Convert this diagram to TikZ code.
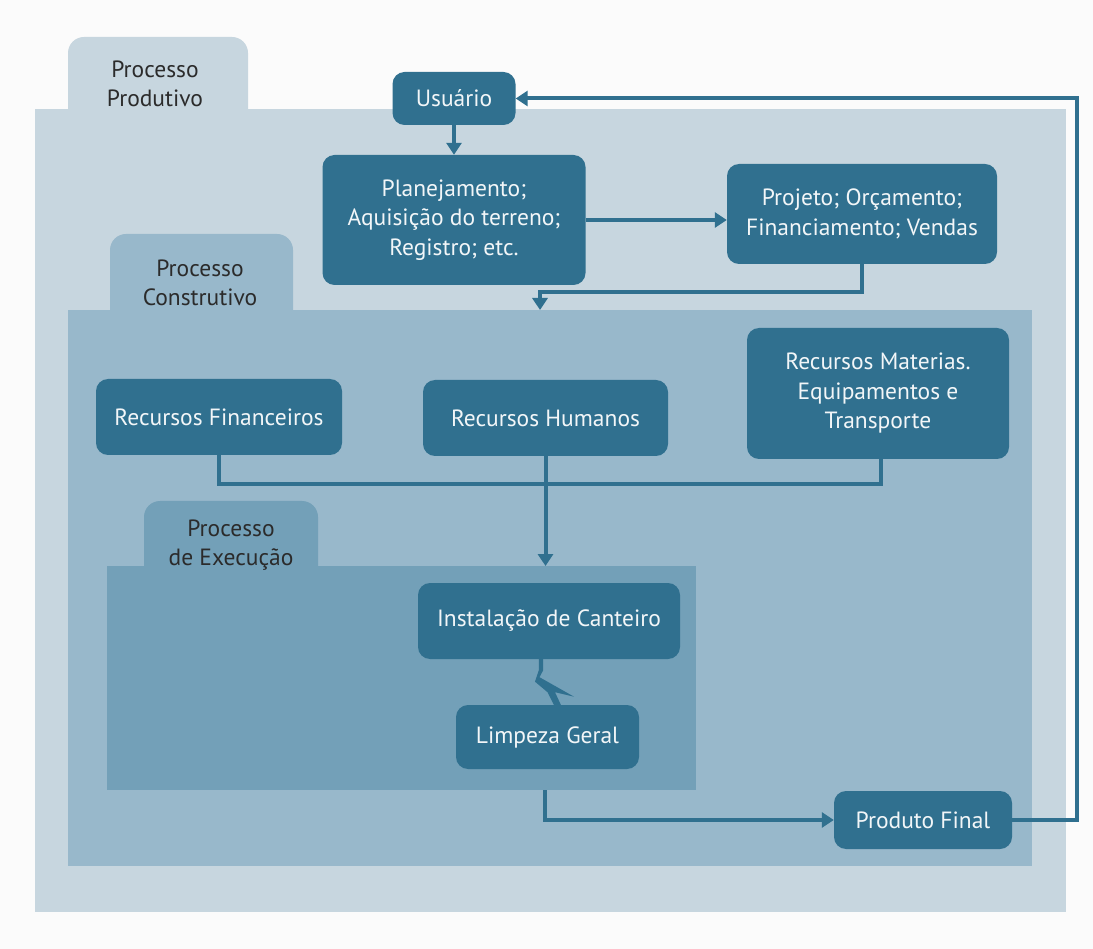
\documentclass[tikz,border=0pt]{standalone}
\usepackage{fontspec}
\setmainfont{PT Sans}
\usetikzlibrary{arrows.meta,calc}

\definecolor{pagebg}{HTML}{FBFBFB}
\definecolor{prodc}{HTML}{C7D6DF}
\definecolor{consc}{HTML}{98B8CB}
\definecolor{execc}{HTML}{73A0B8}
\definecolor{boxc}{HTML}{30708F}
\definecolor{tabtext}{HTML}{2B2B2B}
\definecolor{boxtext}{HTML}{F2F6F8}

\tikzset{
  box/.style={fill=boxc, rounded corners=12pt, text=boxtext, align=center,
    inner sep=0pt, font=\fontsize{23.5}{29.5}\selectfont},
  tablabel/.style={text=tabtext, align=center, inner sep=0pt,
    font=\fontsize{23.5}{29}\selectfont},
  link/.style={draw=boxc, line width=4pt},
  flow/.style={link, -{Triangle[width=15pt,length=12pt]}},
}

\begin{document}
\begin{tikzpicture}[x=1pt,y=-1pt]
  \fill[pagebg] (0,0) rectangle (1093,949);
  \useasboundingbox (0,0) rectangle (1093,949);

  % Processo Produtivo
  \fill[prodc, rounded corners=16pt] (68,140) -- (68,37) -- (248,37) -- (248,140) -- cycle;
  \fill[prodc] (35,109) rectangle (1066,912);
  \node[tablabel] (tabprod) at (155,84) {Processo\\Produtivo};

  % Processo Construtivo
  \fill[consc, rounded corners=16pt] (110,340) -- (110,234) -- (293,234) -- (293,340) -- cycle;
  \fill[consc] (68,310) rectangle (1032,866);
  \node[tablabel] (tabcons) at (200,283) {Processo\\Construtivo};
  \coordinate (consTop) at (540,310);

  % Processo de Execucao
  \fill[execc, rounded corners=16pt] (144,600) -- (144,501) -- (318,501) -- (318,600) -- cycle;
  \fill[execc] (107,566) rectangle (696,790);
  \node[tablabel] (tabexec) at (231,545) {Processo\\de Execução};
  \coordinate (execTop) at (545.5,566);
  \coordinate (execBot) at (545,790);

  % Steps
  \node[box, minimum width=123pt, minimum height=53pt] (usr) at (454,98.5) {Usuário};
  \node[box, minimum width=263pt, minimum height=130pt] (plan) at (454,220)
    {Planejamento;\\Aquisição do terreno;\\Registro; etc.};
  \node[box, minimum width=270pt, minimum height=100pt] (proj) at (862,214)
    {Projeto; Orçamento;\\Financiamento; Vendas};
  \node[box, minimum width=246pt, minimum height=76pt] (rfin) at (219,417) {Recursos Financeiros};
  \node[box, minimum width=245pt, minimum height=76pt] (rhum) at (545.5,418) {Recursos Humanos};
  \node[box, minimum width=262pt, minimum height=131pt] (rmat) at (878,393.5)
    {Recursos Materias.\\Equipamentos e\\Transporte};
  \node[box, minimum width=262pt, minimum height=76pt] (inst) at (549,621) {Instalação de Canteiro};
  \node[box, minimum width=183pt, minimum height=64pt] (limp) at (547.5,737) {Limpeza Geral};
  \node[box, minimum width=178pt, minimum height=58pt] (prod) at (923,820) {Produto Final};

  % Connectors
  \draw[flow] (usr.south) -- (plan.north);
  \draw[flow] (plan.east) -- (plan.east -| proj.west);
  \draw[flow] (proj.south) |- ($(consTop)+(0,-18)$) -- (consTop);
  \draw[link] (rfin.south) |- ($(rmat.south)+(3,25)$) -- ($(rmat.south)+(3,0)$);
  \draw[flow] (rhum.south) -- (execTop);
  \draw[flow] (execBot) |- (prod.west);
  \draw[flow] (prod.east) -- ++(65,0) |- (usr.east);

  % Lightning link between the execution steps
  \coordinate (bolt) at ([xshift=-8pt]inst.south);
  \fill[boxc, shift={(bolt)}] (-2.2,0) -- (2.2,0) -- (2.2,11) -- (-1.5,18)
    -- (33,37.5) -- (14,33) -- (20.5,47) -- (13.5,47)
    -- (6.5,33) -- (-6,22.5) -- (-2.2,11) -- cycle;
\end{tikzpicture}
\end{document}
